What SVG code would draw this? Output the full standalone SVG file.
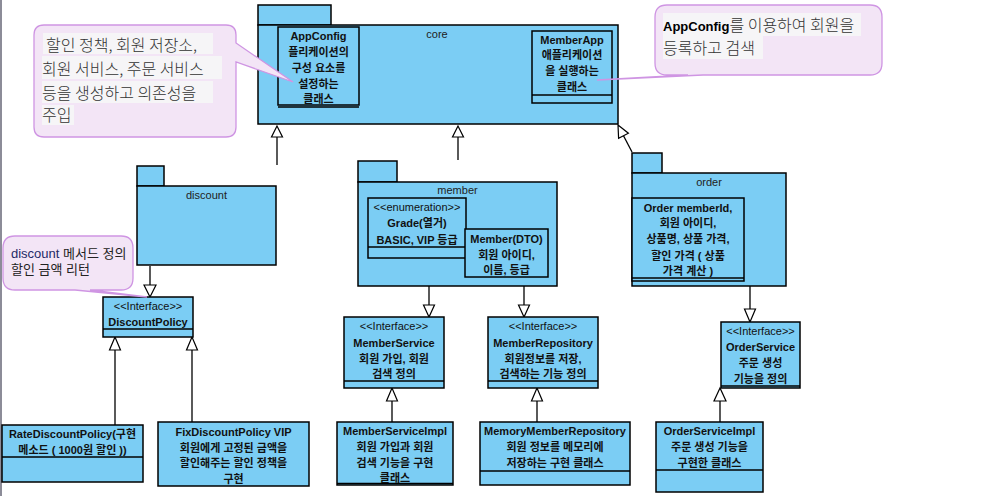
<svg xmlns="http://www.w3.org/2000/svg" width="985" height="496" viewBox="0 0 985 496">
<style>
.pk{fill:#7bcdf4;stroke:#000;stroke-width:1.5}
.bx{fill:#7bcdf4;stroke:#000;stroke-width:1.5}
.sp{stroke:#000;stroke-width:1.5;fill:none}
.ln{stroke:#000;stroke-width:1.3;fill:none}
.tri{fill:#fff;stroke:#000;stroke-width:1.2}
.note{fill:#f3e5f6;stroke:#cf95e3;stroke-width:1.3}
.hl{fill:#f6f5f7}
text{font-family:"Liberation Sans","Noto Sans CJK KR",sans-serif}
.t{font-size:11px;font-weight:bold;fill:#111;text-anchor:middle}
.st{font-size:11px;fill:#111;text-anchor:middle}
.pl{font-size:11px;fill:#222;text-anchor:middle}
.nt{font-family:"Noto Sans CJK KR","Liberation Sans",sans-serif;font-size:16px;font-weight:300;fill:#333}
.ns{font-size:13px;fill:#222}
</style>
<line x1="1" y1="0" x2="1" y2="496" stroke="#8c8c98" stroke-width="2"/>

<g id="connectors">
<line class="ln" x1="277" y1="165" x2="277" y2="137"/>
<polygon class="tri" points="277,126 271.5,137 282.5,137"/>
<line class="ln" x1="458" y1="160" x2="458" y2="137"/>
<polygon class="tri" points="458,126 452.5,137 463.5,137"/>
<line class="ln" x1="632" y1="152" x2="623.5" y2="135.7"/>
<polygon class="tri" points="618,125 628.4,133.2 618.6,138.2"/>
<line class="ln" x1="429" y1="286" x2="429" y2="305"/>
<polygon class="tri" points="429,317 423.5,305 434.5,305"/>
<line class="ln" x1="524" y1="286" x2="524" y2="305"/>
<polygon class="tri" points="524,317 518.5,305 529.5,305"/>
<line class="ln" x1="750" y1="286" x2="750" y2="309"/>
<polygon class="tri" points="750,322 744.5,309 755.5,309"/>
<line class="ln" x1="150" y1="266" x2="150" y2="285"/>
<polygon class="tri" points="150,297 144,285 156,285"/>
<line class="ln" x1="392" y1="401" x2="392" y2="422"/>
<polygon class="tri" points="392,388 386.5,401 397.5,401"/>
<line class="ln" x1="537" y1="401" x2="537" y2="422"/>
<polygon class="tri" points="537,388 531.5,401 542.5,401"/>
<line class="ln" x1="720" y1="401" x2="720" y2="422"/>
<polygon class="tri" points="720,388 714,401 726,401"/>
<line class="ln" x1="115" y1="350" x2="115" y2="425"/>
<polygon class="tri" points="115,337 109.5,350 120.5,350"/>
<line class="ln" x1="192" y1="350" x2="192" y2="422"/>
<polygon class="tri" points="192,337 186.5,350 197.5,350"/>
</g>

<g id="pkg-core">
<rect class="pk" x="258" y="5" width="73" height="20"/>
<rect class="pk" x="258" y="25" width="360" height="99"/>
<text class="pl" x="437" y="38">core</text>
</g>
<g id="cls-appconfig">
<rect class="bx" x="278" y="27" width="81" height="78"/>
<line class="sp" x1="278" y1="107" x2="359" y2="107"/>
<text class="t" x="318.5" y="40">AppConfig</text>
<text class="t" x="318.5" y="56">플리케이션의</text>
<text class="t" x="318.5" y="72">구성 요소를</text>
<text class="t" x="318.5" y="88">설정하는</text>
<text class="t" x="318.5" y="103">클래스</text>
</g>
<g id="cls-memberapp">
<rect class="bx" x="532" y="31" width="80" height="72"/>
<line class="sp" x1="532" y1="95" x2="612" y2="95"/>
<text class="t" x="572" y="44">MemberApp</text>
<text class="t" x="572" y="59">애플리케이션</text>
<text class="t" x="572" y="75">을 실행하는</text>
<text class="t" x="572" y="91">클래스</text>
</g>

<g id="pkg-discount">
<rect class="pk" x="137" y="166" width="27" height="20"/>
<rect class="pk" x="137" y="186" width="139" height="79"/>
<text class="pl" x="206.5" y="199">discount</text>
</g>

<g id="pkg-member">
<rect class="pk" x="358" y="161" width="39" height="21"/>
<rect class="pk" x="358" y="182" width="199" height="104"/>
<text class="pl" x="457.5" y="194">member</text>
</g>
<g id="cls-grade">
<rect class="bx" x="368" y="198" width="98" height="60"/>
<line class="sp" x1="368" y1="247" x2="466" y2="247"/>
<text class="st" x="417" y="211">&lt;&lt;enumeration&gt;&gt;</text>
<text class="t" x="417" y="227">Grade(열거)</text>
<text class="t" x="417" y="244">BASIC, VIP 등급</text>
</g>
<g id="cls-member">
<rect class="bx" x="465" y="229" width="83" height="48"/>
<text class="t" x="506.5" y="243">Member(DTO)</text>
<text class="t" x="506.5" y="259">회원 아이디,</text>
<text class="t" x="506.5" y="274">이름, 등급</text>
</g>

<g id="pkg-order">
<rect class="pk" x="632" y="153" width="30" height="20"/>
<rect class="pk" x="632" y="173" width="154" height="113"/>
<text class="pl" x="709" y="186">order</text>
</g>
<g id="cls-order">
<rect class="bx" x="632" y="198" width="112" height="83"/>
<line class="sp" x1="632" y1="278" x2="744" y2="278"/>
<text class="t" x="688" y="212">Order memberId,</text>
<text class="t" x="688" y="227">회원 아이디,</text>
<text class="t" x="688" y="243">상품명, 상품 가격,</text>
<text class="t" x="688" y="260">할인 가격 ( 상품</text>
<text class="t" x="688" y="275">가격 계산 )</text>
</g>

<g id="cls-memberservice">
<rect class="bx" x="344" y="317" width="100" height="71"/>
<line class="sp" x1="344" y1="381" x2="444" y2="381"/>
<text class="st" x="394" y="330">&lt;&lt;Interface&gt;&gt;</text>
<text class="t" x="394" y="347">MemberService</text>
<text class="t" x="394" y="363">회원 가입, 회원</text>
<text class="t" x="394" y="378">검색 정의</text>
</g>
<g id="cls-memberrepository">
<rect class="bx" x="488" y="317" width="110" height="71"/>
<line class="sp" x1="488" y1="381" x2="598" y2="381"/>
<text class="st" x="543" y="330">&lt;&lt;Interface&gt;&gt;</text>
<text class="t" x="543" y="347">MemberRepository</text>
<text class="t" x="543" y="363">회원정보를 저장,</text>
<text class="t" x="543" y="378">검색하는 기능 정의</text>
</g>
<g id="cls-orderservice">
<rect class="bx" x="721" y="322" width="79" height="66"/>
<line class="sp" x1="721" y1="386" x2="800" y2="386"/>
<text class="st" x="760.5" y="335">&lt;&lt;Interface&gt;&gt;</text>
<text class="t" x="760.5" y="351">OrderService</text>
<text class="t" x="760.5" y="367">주문 생성</text>
<text class="t" x="760.5" y="383">기능을 정의</text>
</g>
<g id="cls-discountpolicy">
<rect class="bx" x="103" y="297" width="90" height="40"/>
<line class="sp" x1="103" y1="329" x2="193" y2="329"/>
<text class="st" x="148" y="310">&lt;&lt;Interface&gt;&gt;</text>
<text class="t" x="148" y="326">DiscountPolicy</text>
</g>

<g id="cls-memberserviceimpl">
<rect class="bx" x="337" y="422" width="116" height="63"/>
<line class="sp" x1="337" y1="483.5" x2="453" y2="483.5"/>
<text class="t" x="395" y="435">MemberServiceImpl</text>
<text class="t" x="395" y="451">회원 가입과 회원</text>
<text class="t" x="395" y="467">검색 기능을 구현</text>
<text class="t" x="395" y="482">클래스</text>
</g>
<g id="cls-memorymemberrepository">
<rect class="bx" x="480" y="422" width="150" height="63"/>
<line class="sp" x1="480" y1="471" x2="630" y2="471"/>
<text class="t" x="555" y="435">MemoryMemberRepository</text>
<text class="t" x="555" y="451">회원 정보를 메모리에</text>
<text class="t" x="555" y="467">저장하는 구현 클래스</text>
</g>
<g id="cls-orderserviceimpl">
<rect class="bx" x="656" y="422" width="107" height="70"/>
<line class="sp" x1="656" y1="470" x2="763" y2="470"/>
<text class="t" x="709.5" y="435">OrderServiceImpl</text>
<text class="t" x="709.5" y="451">주문 생성 기능을</text>
<text class="t" x="709.5" y="467">구현한 클래스</text>
</g>
<g id="cls-ratediscountpolicy">
<rect class="bx" x="2" y="425" width="141" height="57"/>
<line class="sp" x1="2" y1="457" x2="143" y2="457"/>
<text class="t" x="72.5" y="438">RateDiscountPolicy(구현</text>
<text class="t" x="72.5" y="454">메소드 ( 1000원 할인 ))</text>
</g>
<g id="cls-fixdiscountpolicy">
<rect class="bx" x="158" y="422" width="151" height="64"/>
<text class="t" x="233.5" y="436">FixDiscountPolicy VIP</text>
<text class="t" x="233.5" y="452">회원에게 고정된 금액을</text>
<text class="t" x="233.5" y="467">할인해주는 할인 정책을</text>
<text class="t" x="233.5" y="483">구현</text>
</g>

<g id="note-appconfig">
<path class="note" d="M44,25 H226 Q236,25 236,35 V43 L293,82 L236,62 V127 Q236,137 226,137 H44 Q34,137 34,127 V35 Q34,25 44,25 Z"/>
<rect class="hl" x="43" y="33" width="170" height="21"/>
<rect class="hl" x="42" y="56" width="180" height="23"/>
<rect class="hl" x="42" y="81" width="171" height="22"/>
<rect class="hl" x="42" y="105" width="32" height="20"/>
<text class="nt" x="46" y="51">할인 정책, 회원 저장소,</text>
<text class="nt" x="42" y="75">회원 서비스, 주문 서비스</text>
<text class="nt" x="42" y="99">등을 생성하고 의존성을</text>
<text class="nt" x="42" y="121">주입</text>
</g>
<g id="note-memberapp">
<path class="note" d="M667,5 H870 Q882,5 882,17 V63 Q882,75 870,75 H703 L597,80 L688,75 H667 Q655,75 655,63 V17 Q655,5 667,5 Z"/>
<rect class="hl" x="663" y="13" width="198" height="23"/>
<rect class="hl" x="663" y="36" width="100" height="23"/>
<text x="663" y="31"><tspan font-size="13" font-weight="bold" fill="#000">AppConfig</tspan><tspan class="nt">를 이용하여 회원을</tspan></text>
<text class="nt" x="663" y="54">등록하고 검색</text>
</g>
<g id="note-discount">
<path class="note" d="M15,236 H121 Q133,236 133,248 V278 Q133,290 121,290 H90 L147,297 L75,290 H15 Q3,290 3,278 V248 Q3,236 15,236 Z"/>
<text class="ns" x="11" y="258"><tspan fill="#1f2a66">discount</tspan> 메서드 정의</text>
<text class="ns" x="11" y="274">할인 금액 리턴</text>
</g>
</svg>
